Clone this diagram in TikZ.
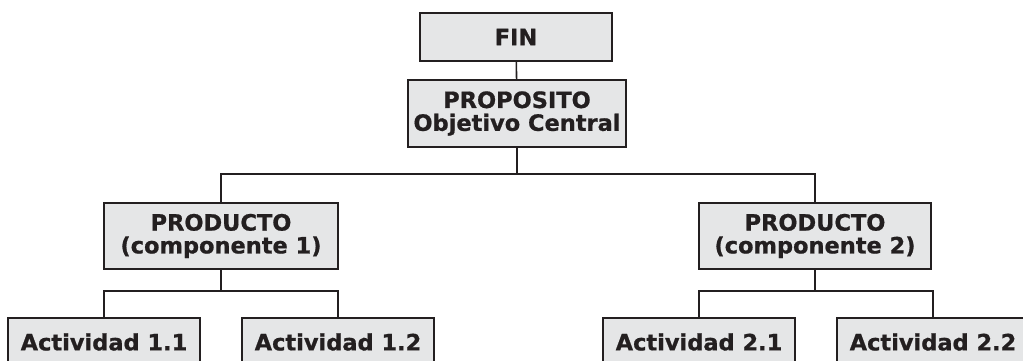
\documentclass[tikz,border=0pt]{standalone}
\usepackage{fontspec}
\newfontfamily\cajafont[FakeBold=0.8]{DejaVu Sans Bold}
\definecolor{boxgray}{RGB}{229,230,231}
\definecolor{inkgray}{RGB}{35,31,32}
\tikzset{
  caja/.style={draw=inkgray, line width=1.2pt, fill=boxgray, text=inkgray,
    font=\cajafont\fontsize{12.8}{13}\selectfont, align=center, inner sep=0pt},
  cajaact/.style={caja, minimum width=3.84cm, minimum height=0.96cm},
  linea/.style={draw=inkgray, line width=0.9pt}
}
\begin{document}
\begin{tikzpicture}[x=0.02cm,y=-0.02cm]
  \useasboundingbox (0,0) rectangle (1023,361);
  \clip (0,0) rectangle (1023,361);
  % niveles superiores
  \node[caja, minimum width=3.84cm, minimum height=0.96cm] (fin) at (516,37) {FIN};
  \node[caja, minimum width=4.36cm, minimum height=1.34cm] (proposito) at (517,113.5) {PROPOSITO\\Objetivo Central};
  \node[caja, minimum width=4.68cm, minimum height=1.32cm] (prod1) at (221,236) {PRODUCTO\\(componente 1)};
  \node[caja, minimum width=4.64cm, minimum height=1.32cm] (prod2) at (815,236) {PRODUCTO\\(componente 2)};
  % actividades
  \node[cajaact] (act11) at (104,342) {Actividad 1.1};
  \node[cajaact] (act12) at (338,342) {Actividad 1.2};
  \node[cajaact] (act21) at (699,342) {Actividad 2.1};
  \node[cajaact] (act22) at (933,342) {Actividad 2.2};
  % ramas
  \coordinate (rama) at (517,174);
  \coordinate (rama1) at (221,291);
  \coordinate (rama2) at (815,291);
  \draw[linea] (fin) -- (proposito);
  \draw[linea] (proposito) -- (rama);
  \draw[linea] (prod1) |- (rama) -| (prod2);
  \draw[linea] (prod1) -- (rama1);
  \draw[linea] (act11) |- (rama1) -| (act12);
  \draw[linea] (prod2) -- (rama2);
  \draw[linea] (act21) |- (rama2) -| (act22);
\end{tikzpicture}
\end{document}
